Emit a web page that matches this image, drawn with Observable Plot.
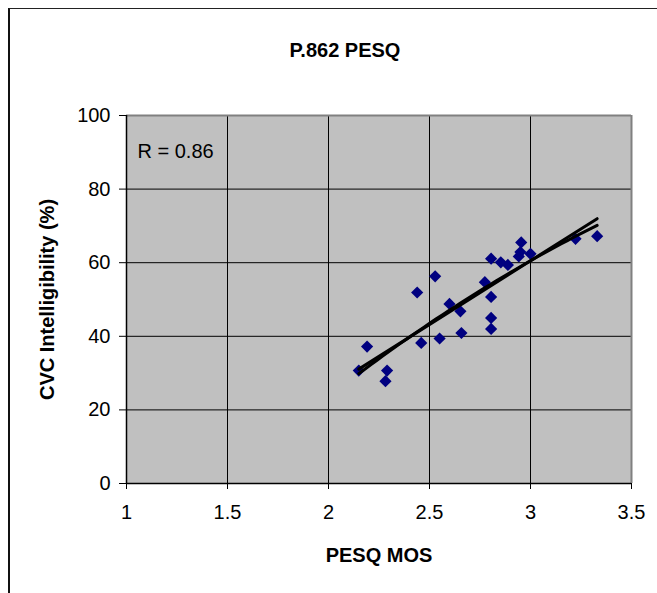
<!DOCTYPE html>
<html>
<head>
<meta charset="utf-8">
<script src="https://cdn.jsdelivr.net/npm/d3@7"></script>
<script src="https://cdn.jsdelivr.net/npm/@observablehq/plot@0.6"></script>
<style>
  html, body { margin: 0; padding: 0; background: white; }
  #wrap { position: relative; width: 657px; height: 593px; font-family: "Liberation Sans", Arial, sans-serif; }
  #border { position: absolute; left: 8px; top: 8px; width: 660px; height: 600px; border-top: 1.5px solid #222; border-left: 2px solid #111; pointer-events: none; }
</style>
</head>
<body>
<div id="wrap"><div id="border"></div></div>
<script>
const title = "P.862 PESQ";
const xLabel = "PESQ MOS";
const yLabel = "CVC Intelligibility (%)";
const annotation = "R = 0.86";
const xTicks = [1, 1.5, 2, 2.5, 3, 3.5];
const yTicks = [0, 20, 40, 60, 80, 100];
const pesqMos = [2.150, 2.191, 2.290, 2.282, 2.439, 2.459, 2.528, 2.550, 2.599, 2.653, 2.658, 2.774, 2.805, 2.805, 2.805, 2.805, 2.853, 2.888, 2.954, 2.950, 2.942, 3.000, 3.223, 3.330];
const cvcIntell = [30.7, 37.2, 30.7, 27.8, 51.9, 38.2, 56.3, 39.4, 48.8, 46.8, 40.9, 54.7, 61.1, 50.7, 45.0, 42.0, 60.1, 59.4, 65.5, 62.9, 61.7, 62.4, 66.5, 67.2];

const data = pesqMos.map((x, i) => ({x, y: cvcIntell[i]}));

// quadratic least-squares fit derived from the data
function quadFit(pts) {
  let S = [0,0,0,0,0], T = [0,0,0];
  for (const p of pts) {
    for (let k = 0; k < 5; k++) S[k] += Math.pow(p.x, k);
    for (let k = 0; k < 3; k++) T[k] += p.y * Math.pow(p.x, k);
  }
  const A = [[S[0],S[1],S[2],T[0]],[S[1],S[2],S[3],T[1]],[S[2],S[3],S[4],T[2]]];
  for (let i = 0; i < 3; i++) {
    for (let j = i + 1; j < 3; j++) {
      const f = A[j][i] / A[i][i];
      for (let k = i; k < 4; k++) A[j][k] -= f * A[i][k];
    }
  }
  const c = [0,0,0];
  for (let i = 2; i >= 0; i--) {
    let s = A[i][3];
    for (let k = i + 1; k < 3; k++) s -= A[i][k] * c[k];
    c[i] = s / A[i][i];
  }
  return c;
}
const c = quadFit(data);
const xs = d3.extent(pesqMos);
const quad = d3.range(0, 41).map(i => {
  const x = xs[0] + (xs[1] - xs[0]) * i / 40;
  return {x, y: c[0] + c[1] * x + c[2] * x * x};
});

const chart = Plot.plot({
  width: 657,
  height: 593,
  marginLeft: 126,
  marginRight: 26,
  marginTop: 115,
  marginBottom: 110,
  style: { fontFamily: "Liberation Sans, Arial, sans-serif", fontSize: "20px", background: "transparent", overflow: "visible" },
  x: { domain: [1, 3.5] },
  y: { domain: [0, 100] },
  marks: [
    Plot.frame({ fill: "#c0c0c0" }),
    Plot.gridX(xTicks.slice(1, -1), { stroke: "black", strokeOpacity: 1, strokeWidth: 1 }),
    Plot.gridY(yTicks.slice(1, -1), { stroke: "black", strokeOpacity: 1, strokeWidth: 1 }),
    Plot.ruleY([yTicks[yTicks.length - 1]], { stroke: "#808080", strokeWidth: 2 }),
    Plot.ruleX([xTicks[xTicks.length - 1]], { stroke: "#808080", strokeWidth: 2 }),
    Plot.ruleX([xTicks[0]], { stroke: "black", strokeWidth: 1.5 }),
    Plot.ruleY([yTicks[0]], { stroke: "black", strokeWidth: 1.5 }),
    Plot.axisX(xTicks, { tickSize: 6, tickPadding: 15, fontSize: 20, stroke: "black", label: xLabel, labelAnchor: "center", labelArrow: "none", labelOffset: 78, tickFormat: d => String(d) }),
    Plot.axisY(yTicks, { tickSize: 7, tickPadding: 9, fontSize: 20, stroke: "black", label: yLabel, labelAnchor: "center", labelArrow: "none", labelOffset: 87, tickFormat: d => String(d) }),
    Plot.dot(data, { x: "x", y: "y", symbol: "diamond2", r: 5.5, fill: "#000080", stroke: "none" }),
    Plot.line(quad, { x: "x", y: "y", stroke: "black", strokeWidth: 3 }),
    Plot.linearRegressionY(data, { x: "x", y: "y", stroke: "black", strokeWidth: 3, ci: 0 }),
    Plot.text([title], { frameAnchor: "top", dx: -34, dy: -65, lineAnchor: "middle", fontWeight: "bold", fontSize: 20, fill: "black" }),
    Plot.text([annotation], { frameAnchor: "top-left", dx: 11, dy: 36, lineAnchor: "middle", textAnchor: "start", fontSize: 20, fill: "black" })
  ]
});
chart.style.position = "absolute";
chart.style.left = "0px";
chart.style.top = "0px";
document.getElementById("wrap").appendChild(chart);
// bold axis labels
chart.querySelectorAll("[aria-label='x-axis label'] text, [aria-label='y-axis label'] text").forEach(t => {
  t.setAttribute("font-weight", "bold");
  t.setAttribute("font-size", "20");
});
</script>
</body>
</html>
